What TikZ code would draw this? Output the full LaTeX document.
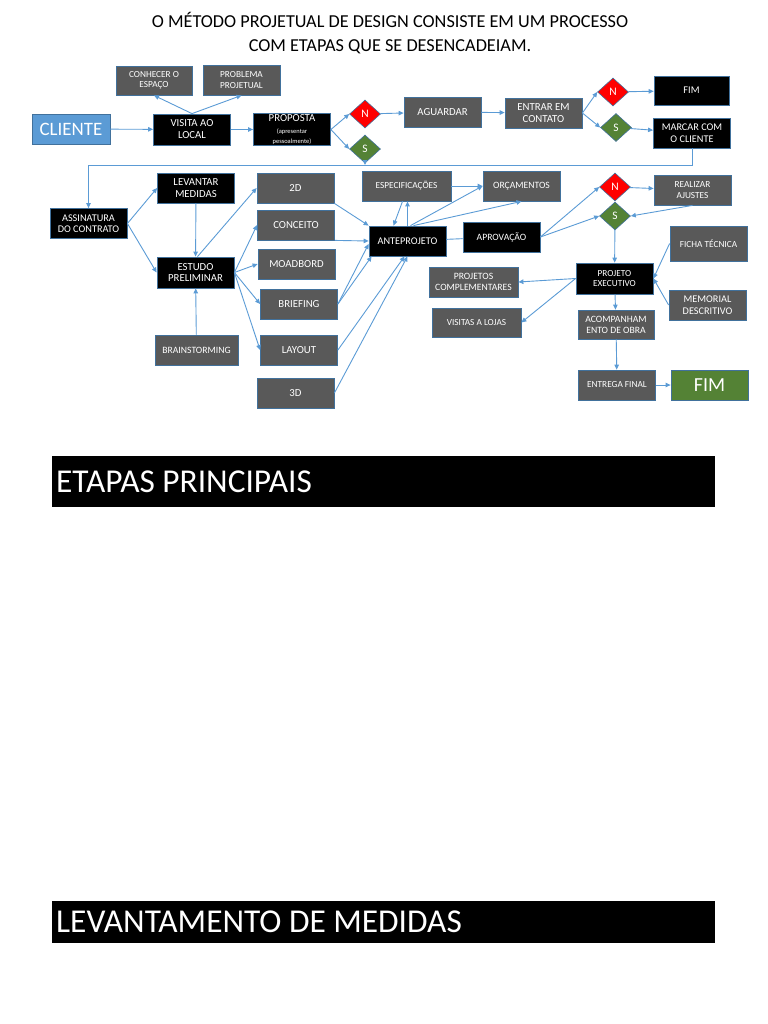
\documentclass[tikz,border=0pt]{standalone}
\usepackage{fontspec}
\setmainfont{Carlito}
\usetikzlibrary{arrows.meta,calc,positioning,shapes.geometric}
\definecolor{boxgray}{HTML}{595959}
\definecolor{boxline}{HTML}{41719C}
\definecolor{arline}{HTML}{5B9BD5}
\definecolor{okgreen}{HTML}{548235}
\definecolor{cliente}{HTML}{5B9BD5}
\newcommand{\smtxt}{\fontsize{6.5}{7}\selectfont}
\tikzset{
	bx/.style={draw=boxline,line width=0.8bp,text=white,align=center,inner sep=1bp,
		minimum width=77bp,minimum height=30bp,font=\fontsize{10.3}{11.5}\selectfont},
	gbox/.style={bx,fill=boxgray},
	kbox/.style={bx,fill=black},
	sm/.style={font=\fontsize{9.3}{10.5}\selectfont},
	md/.style={font=\fontsize{9.7}{11}\selectfont},
	bg/.style={font=\fontsize{10.8}{12}\selectfont},
	dia/.style={diamond,draw=boxline,line width=0.6bp,text=white,inner sep=0pt,
		minimum width=31bp,minimum height=28bp,font=\fontsize{11.5}{12}\selectfont},
	dN/.style={dia,fill=red},
	dS/.style={dia,fill=okgreen},
	ar/.style={draw=arline,line width=0.9bp,-{Triangle[length=5bp,width=4.5bp]}},
	ln/.style={draw=arline,line width=0.9bp},
	banner/.style={fill=black,text=white,anchor=west,minimum height=51bp,align=flush left,
		inner xsep=4bp,text width=655bp,font=\fontsize{33.5}{38}\selectfont}
}

\begin{document}
\begin{tikzpicture}[x=1bp,y=-1bp]
	\useasboundingbox (0,0) rectangle (768,1024);
	\node [align=center,font=\fontsize{18.3}{24}\selectfont] (title) at (390,33) {O MÉTODO PROJETUAL DE DESIGN CONSISTE EM UM PROCESSO\\COM ETAPAS QUE SE DESENCADEIAM.};
	% primeira linha
	\node [gbox,sm,minimum width=76bp,minimum height=29bp] (conhecer) at (154,80.5) {CONHECER O\\ESPAÇO};
	\node [gbox,sm] (problema) at (241.5,80) {PROBLEMA\\PROJETUAL};
	\node [bx,fill=cliente,minimum width=78bp,font=\fontsize{19}{21}\selectfont] (cliente) at (71,129) {CLIENTE};
	\node [kbox,bg,minimum height=31bp] (visita) at (192,129.5) {VISITA AO\\LOCAL};
	\node [kbox,bg,minimum height=31bp] (proposta) at (292,129.5) {PROPOSTA\\[0bp]{\smtxt(apresentar}\\[-2bp]{\smtxt pessoalmente)}};
	\node [dN] (n1) at (365,114) {N};
	\node [dS] (s1) at (365,149) {S};
	\node [gbox,bg] (aguardar) at (442.5,112) {AGUARDAR};
	\node [gbox,bg] (entrar) at (543.5,113) {ENTRAR EM\\CONTATO};
	\node [dN] (n2) at (613,92) {N};
	\node [dS] (s2) at (616,127.5) {S};
	\node [kbox,minimum width=75bp,minimum height=29bp] (fim1) at (691.5,90.5) {FIM};
	\node [kbox] (marcar) at (692,133) {MARCAR COM\\O CLIENTE};
	% segunda parte
	\node [kbox] (assinatura) at (88.5,223.5) {ASSINATURA\\DO CONTRATO};
	\node [kbox,bg] (levantar) at (196,188) {LEVANTAR\\MEDIDAS};
	\node [kbox,bg,minimum height=31bp] (estudo) at (195.5,272.5) {ESTUDO\\PRELIMINAR};
	\node [gbox,md,minimum width=83bp] (brain) at (196.5,350) {BRAINSTORMING};
	\node [gbox,bg] (d2) at (295.5,188) {2D};
	\node [gbox,bg] (conceito) at (296,225) {CONCEITO};
	\node [gbox,bg] (moadbord) at (296.5,264) {MOADBORD};
	\node [gbox,bg] (briefing) at (299,304) {BRIEFING};
	\node [gbox,bg] (layout) at (299,350) {LAYOUT};
	\node [gbox,bg] (d3) at (295.5,393) {3D};
	\node [gbox,sm,minimum width=89bp] (espec) at (406.5,186) {ESPECIFICAÇÕES};
	\node [gbox,md] (orc) at (521.5,186) {ORÇAMENTOS};
	\node [kbox] (ante) at (407.5,241) {ANTEPROJETO};
	\node [kbox,md] (aprov) at (501.5,237) {APROVAÇÃO};
	\node [dN] (n3) at (615,187) {N};
	\node [dS] (s3) at (615,216) {S};
	\node [gbox,sm] (ajustes) at (692.5,190) {REALIZAR\\AJUSTES};
	\node [gbox,sm,minimum height=35bp] (ficha) at (708.5,243.5) {FICHA TÉCNICA};
	\node [kbox,sm,minimum height=31bp] (pexec) at (614.5,278.5) {PROJETO\\EXECUTIVO};
	\node [gbox] (memorial) at (707.5,305) {MEMORIAL\\DESCRITIVO};
	\node [gbox,md,minimum width=89bp] (pcomp) at (473.5,282) {PROJETOS\\COMPLEMENTARES};
	\node [gbox,sm,minimum width=89bp,minimum height=29bp] (visitas) at (476.5,322.5) {VISITAS A LOJAS};
	\node [gbox,md,minimum width=76bp,minimum height=29bp] (acomp) at (616,324.5) {ACOMPANHAM\\ENTO DE OBRA};
	\node [gbox,sm] (entrega) at (617,385) {ENTREGA FINAL};
	\node [bx,fill=okgreen,font=\fontsize{20}{22}\selectfont] (fim2) at (709.5,385) {FIM};
	% faixas
	\node [banner] (etapas) at (52,481.5) {ETAPAS PRINCIPAIS};
	\node [banner,minimum height=42bp] (medidas) at (52,922) {LEVANTAMENTO DE MEDIDAS};
	% ligacoes
	\coordinate (bus) at (0,165);
	\draw [ar] (cliente) -- (visita);
	\draw [ar] (visita.north) -- (conhecer.south);
	\draw [ar] (visita.north) -- (problema.south);
	\draw [ar] (visita) -- (proposta);
	\draw [ar] (proposta.east) -- (n1.west);
	\draw [ar] (proposta.east) -- (s1.west);
	\draw [ar] (n1) -- (aguardar);
	\draw [ar] (aguardar) -- (entrar);
	\draw [ar] (entrar.east) -- (n2.west);
	\draw [ar] (entrar.east) -- (s2.west);
	\draw [ar] (n2) -- (fim1);
	\draw [ar] (s2) -- (marcar);
	\draw [ar] (marcar.south) -- (marcar.south |- bus) -| (assinatura.north);
	\draw [ar] (s1.south) -- (s1.south |- bus);
	\draw [ar] (assinatura.east) -- (levantar.west);
	\draw [ar] (assinatura.east) -- (estudo.west);
	\draw [ar] (levantar) -- (estudo);
	\draw [ar] (brain) -- (estudo);
	\draw [ar] ([xshift=2bp]estudo.north) -- (d2.west);
	\draw [ar] (estudo.east) -- (conceito.west);
	\draw [ar] (estudo.east) -- (moadbord.west);
	\draw [ar] (estudo.east) -- (briefing.west);
	\draw [ar] (estudo.east) -- (layout.west);
	\draw [ar] (d2.south east) -- (ante.north west);
	\draw [ar] (conceito.south east) -- (ante.west);
	\draw [ar] (briefing.east) -- ([yshift=-3bp]ante.west);
	\draw [ar] (briefing.east) -- ([xshift=3bp]ante.south west);
	\draw [ar] (layout.east) -- ([xshift=-3bp]ante.south);
	\draw [ar] (d3.east) -- (ante.south);
	\draw [ar] ([xshift=-4bp]espec.south) -- ([xshift=-14bp]ante.north);
	\draw [ar] (ante.north) -- (ante.north |- espec.south);
	\draw [ar] ([xshift=3bp]ante.north) -- (orc.west);
	\draw [ar] ([xshift=6bp]ante.north) -- (orc.south);
	\draw [ar] (espec) -- (orc);
	\draw [ln] (ante) -- (aprov);
	\draw [ar] (aprov.east) -- (n3.west);
	\draw [ar] (aprov.east) -- (s3.west);
	\draw [ar] (n3) -- (ajustes);
	\draw [ar] (ajustes.south) -- (s3.east);
	\draw [ar] (s3) -- (pexec);
	\draw [ar] (ficha.west) -- (pexec.east);
	\draw [ar] (memorial.west) -- (pexec.east);
	\draw [ar] (pexec.west) -- (pcomp.east);
	\draw [ar] (pexec.west) -- (visitas.east);
	\draw [ar] (pexec) -- (acomp);
	\draw [ar] (acomp) -- (entrega);
	\draw [ar] (entrega) -- (fim2);
\end{tikzpicture}
\end{document}
